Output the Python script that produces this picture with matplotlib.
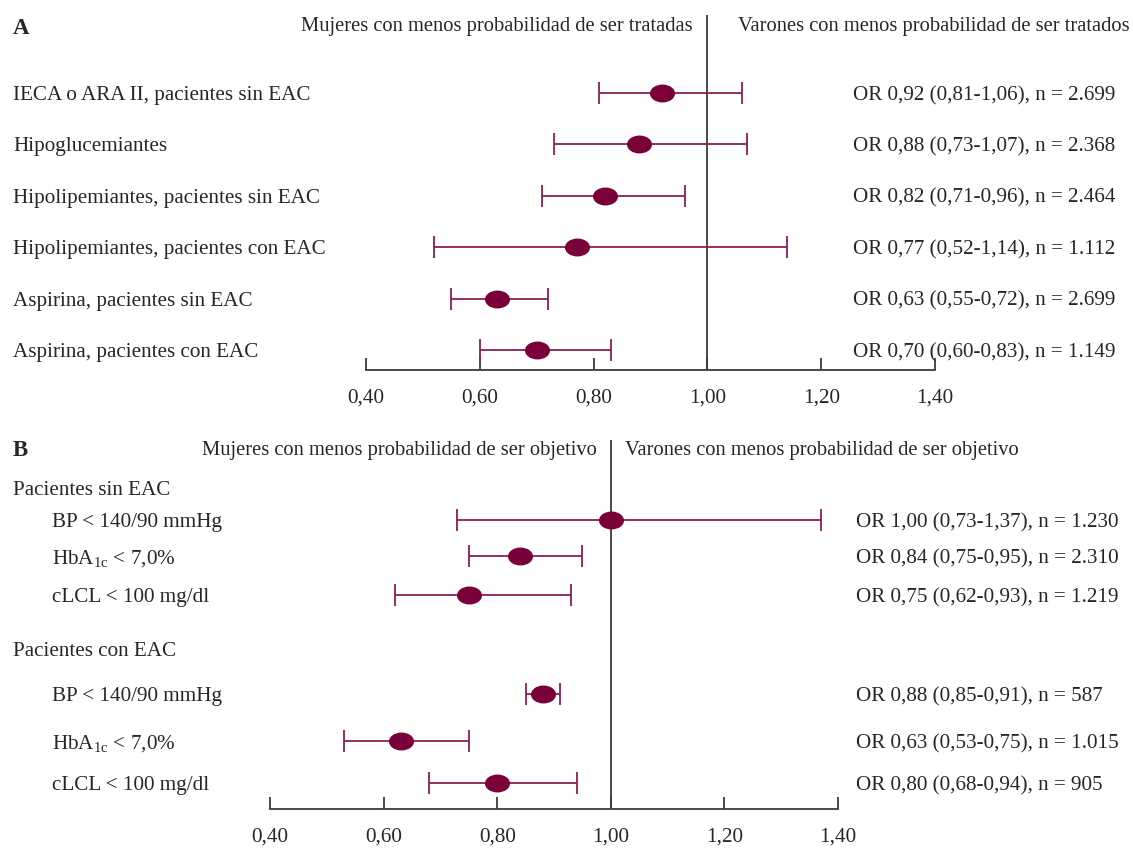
import numpy as np
import matplotlib.pyplot as plt
from matplotlib.path import Path
from matplotlib.transforms import blended_transform_factory

plt.rcParams['font.family'] = ['Liberation Serif', 'DejaVu Serif']
plt.rcParams['mathtext.fontset'] = 'custom'
plt.rcParams['mathtext.rm'] = 'Liberation Serif'
plt.rcParams['mathtext.it'] = 'Liberation Serif:italic'

# ---- data ----
labels_a = ['IECA o ARA II, pacientes sin EAC', 'Hipoglucemiantes',
            'Hipolipemiantes, pacientes sin EAC', 'Hipolipemiantes, pacientes con EAC',
            'Aspirina, pacientes sin EAC', 'Aspirina, pacientes con EAC']
or_a = [0.92, 0.88, 0.82, 0.77, 0.63, 0.70]
lo_a = [0.81, 0.73, 0.71, 0.52, 0.55, 0.60]
hi_a = [1.06, 1.07, 0.96, 1.14, 0.72, 0.83]
n_a = ['2.699', '2.368', '2.464', '1.112', '2.699', '1.149']

groups_b = ['Pacientes sin EAC', 'Pacientes con EAC']
labels_b = ['BP < 140/90 mmHg', r'HbA$_{\mathrm{1c}}$ < 7,0%', 'cLCL < 100 mg/dl'] * 2
or_b = [1.00, 0.84, 0.75, 0.88, 0.63, 0.80]
lo_b = [0.73, 0.75, 0.62, 0.85, 0.53, 0.68]
hi_b = [1.37, 0.95, 0.93, 0.91, 0.75, 0.94]
n_b = ['1.230', '2.310', '1.219', '587', '1.015', '905']

ticks = [0.40, 0.60, 0.80, 1.00, 1.20, 1.40]

# ---- layout (pixel rows) ----
W, H = 1133, 848
rows_a = [93 + 51.4 * i for i in range(6)]
rows_b = [520, 556, 595, 694, 741, 783]
group_rows_b = [488, 649]

dot_col = '#7a0039'
bar_col = '#8c1f52'
ax_col = '#3c3c3c'
txt_col = '#262626'
fs = 15.2
fs_head = 14.8

circ = Path.unit_circle()
ellipse = Path(circ.vertices * np.array([1.0, 0.7]), circ.codes)


def fmt(v):
    return f'{v:.2f}'.replace('.', ',')


fig = plt.figure(figsize=(W / 100, H / 100), dpi=100)


def forest(left, right, top, bottom, rows, vals, lo, hi, ns, labels, lab_x, or_x):
    ax = fig.add_axes([left / W, 1 - bottom / H, (right - left) / W, (bottom - top) / H])
    vals, lo, hi = np.array(vals), np.array(lo), np.array(hi)
    ax.errorbar(vals, rows, xerr=[vals - lo, hi - vals], fmt='none', ecolor=bar_col,
                elinewidth=1.3, capsize=8, capthick=1.3, zorder=2)
    ax.plot(vals, rows, ls='none', marker=ellipse, ms=17, color=dot_col, zorder=3)
    ax.axvline(1.0, color=ax_col, lw=1.3, zorder=1)
    ax.set_xlim(0.4, 1.4)
    ax.set_ylim(bottom, top)
    ax.set_yticks([])
    ax.set_xticks(ticks)
    ax.set_xticklabels([fmt(t) for t in ticks])
    for s in ['left', 'top', 'right']:
        ax.spines[s].set_visible(False)
    ax.spines['bottom'].set_color(ax_col)
    ax.spines['bottom'].set_linewidth(1.3)
    ax.tick_params(axis='x', direction='in', length=9, width=1.3, color=ax_col,
                   pad=13, labelsize=fs, labelcolor=txt_col)
    ax.patch.set_alpha(0)
    tr = blended_transform_factory(fig.transFigure, ax.transData)
    for y, lab, v, l, h, n in zip(rows, labels, vals, lo, hi, ns):
        ax.text(lab_x / W, y, lab, transform=tr, ha='left', va='center_baseline',
                fontsize=fs, color=txt_col)
        ax.text(or_x / W, y, f'OR {fmt(v)} ({fmt(l)}-{fmt(h)}), n = {n}', transform=tr,
                ha='left', va='center_baseline', fontsize=fs, color=txt_col)
    return ax, tr


# Panel A
ax_a, tr_a = forest(366, 935, 15, 370, rows_a, or_a, lo_a, hi_a, n_a, labels_a, 13, 853)
fig.text(13 / W, 1 - 28 / H, 'A', fontsize=16.5, fontweight='bold', va='center', color=txt_col)
fig.text(693 / W, 1 - 26 / H, 'Mujeres con menos probabilidad de ser tratadas',
         ha='right', va='center', fontsize=fs_head, color=txt_col)
fig.text(1130 / W, 1 - 26 / H, 'Varones con menos probabilidad de ser tratados',
         ha='right', va='center', fontsize=fs_head, color=txt_col)

# Panel B
ax_b, tr_b = forest(270, 838, 440, 809, rows_b, or_b, lo_b, hi_b, n_b, labels_b, 52, 856)
for y, g in zip(group_rows_b, groups_b):
    ax_b.text(13 / W, y, g, transform=tr_b, ha='left', va='center_baseline',
              fontsize=fs, color=txt_col)
fig.text(13 / W, 1 - 450 / H, 'B', fontsize=16.5, fontweight='bold', va='center', color=txt_col)
fig.text(597 / W, 1 - 451 / H, 'Mujeres con menos probabilidad de ser objetivo',
         ha='right', va='center', fontsize=fs_head, color=txt_col)
fig.text(625 / W, 1 - 451 / H, 'Varones con menos probabilidad de ser objetivo',
         ha='left', va='center', fontsize=fs_head, color=txt_col)

fig.savefig('out.png', dpi=100, facecolor='white')
